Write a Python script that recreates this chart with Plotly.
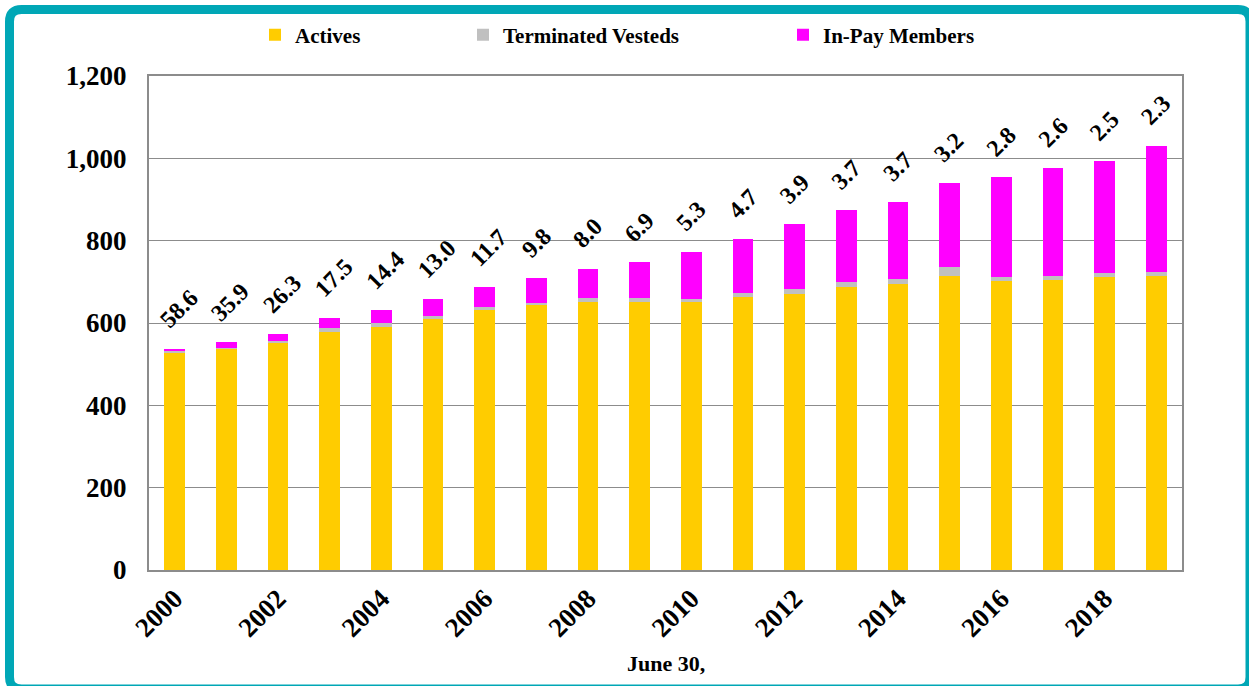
import plotly.graph_objects as go

years = list(range(2000, 2020))
actives = [528, 538, 552, 579, 590, 610, 632, 644, 652, 652, 652, 662, 671, 688, 695, 714, 703, 705, 711, 714]
term_vested = [4, 2, 5, 9, 9, 8, 6, 5, 9, 9, 7, 12, 11, 12, 12, 21, 9, 10, 10, 10]
in_pay = [5, 14, 17, 24, 33, 40, 49, 60, 70, 86, 114, 129, 158, 174, 186, 205, 242, 261, 272, 306]
ratio_labels = ["58.6", "35.9", "26.3", "17.5", "14.4", "13.0", "11.7", "9.8", "8.0", "6.9",
                "5.3", "4.7", "3.9", "3.7", "3.7", "3.2", "2.8", "2.6", "2.5", "2.3"]

W, H = 1249, 686
ML, MR, MT, MB = 149, 67, 76, 116
PW, PH = W - ML - MR, H - MT - MB

FONT = "Liberation Serif, Times New Roman, serif"

def px(x):
    return (x - ML) / PW

def py(y):
    return (H - MB - y) / PH

fig = go.Figure()
fig.add_bar(x=years, y=actives, name="Actives", marker_color="#FFCC00",
            marker_line_width=0, legend="legend")
fig.add_bar(x=years, y=term_vested, name="Terminated Vesteds", marker_color="#C0C0C0",
            marker_line_width=0, legend="legend2")
fig.add_bar(x=years, y=in_pay, name="In-Pay Members", marker_color="#FF00FF",
            marker_line_width=0, legend="legend3")

totals = [a + t + p for a, t, p in zip(actives, term_vested, in_pay)]
for yr, tot, lab in zip(years, totals, ratio_labels):
    fig.add_annotation(x=yr, y=tot, text=lab, showarrow=False, textangle=-45,
                       xanchor="left", yanchor="bottom", xshift=-23, yshift=13,
                       font=dict(family=FONT, size=24, color="black", weight=700))

fig.add_annotation(xref="paper", yref="paper", x=px(666), y=py(663), text="June 30,",
                   showarrow=False, xanchor="center", yanchor="middle",
                   font=dict(family=FONT, size=22, color="black", weight=700))

# teal rounded frame
x0, y0, x1, y1, r = 9.5, 9.5, 1250, 689, 12
path = (f"M {px(x0)},{py(y0 + r)} Q {px(x0)},{py(y0)} {px(x0 + r)},{py(y0)} "
        f"L {px(x1 - r)},{py(y0)} Q {px(x1)},{py(y0)} {px(x1)},{py(y0 + r)} "
        f"L {px(x1)},{py(y1 - r)} Q {px(x1)},{py(y1)} {px(x1 - r)},{py(y1)} "
        f"L {px(x0 + r)},{py(y1)} Q {px(x0)},{py(y1)} {px(x0)},{py(y1 - r)} Z")
fig.add_shape(type="path", xref="paper", yref="paper", path=path,
              line=dict(color="#00A7B6", width=9), layer="above")

legfont = dict(family=FONT, size=21, color="black", weight=700)
common = dict(orientation="h", yanchor="middle", xanchor="left", y=py(35),
              font=legfont, bgcolor="rgba(0,0,0,0)", borderwidth=0)

fig.update_layout(
    width=W, height=H,
    margin=dict(l=ML, r=MR, t=MT, b=MB),
    barmode="stack", bargap=0.6,
    paper_bgcolor="white", plot_bgcolor="white",
    showlegend=True,
    legend=dict(x=px(255), **common),
    legend2=dict(x=px(463), **common),
    legend3=dict(x=px(783), **common),
    xaxis=dict(range=[1999.5, 2019.5], tickmode="linear", tick0=2000, dtick=2,
               tickangle=-45, showgrid=False, showline=True, mirror=True,
               linecolor="#8C8C8C", linewidth=2, ticks="",
               tickfont=dict(family=FONT, size=27, color="black", weight=700)),
    yaxis=dict(range=[0, 1200], tickmode="linear", tick0=0, dtick=200,
               tickformat=",", showgrid=True, gridcolor="#8C8C8C", gridwidth=1,
               showline=True, mirror=True, linecolor="#8C8C8C", linewidth=2,
               ticks="", ticklabelstandoff=15, zeroline=False,
               tickfont=dict(family=FONT, size=27, color="black", weight=700)),
)

fig.write_html("out.html", config={"displayModeBar": False},
               post_script="document.body.style.margin='0';")
